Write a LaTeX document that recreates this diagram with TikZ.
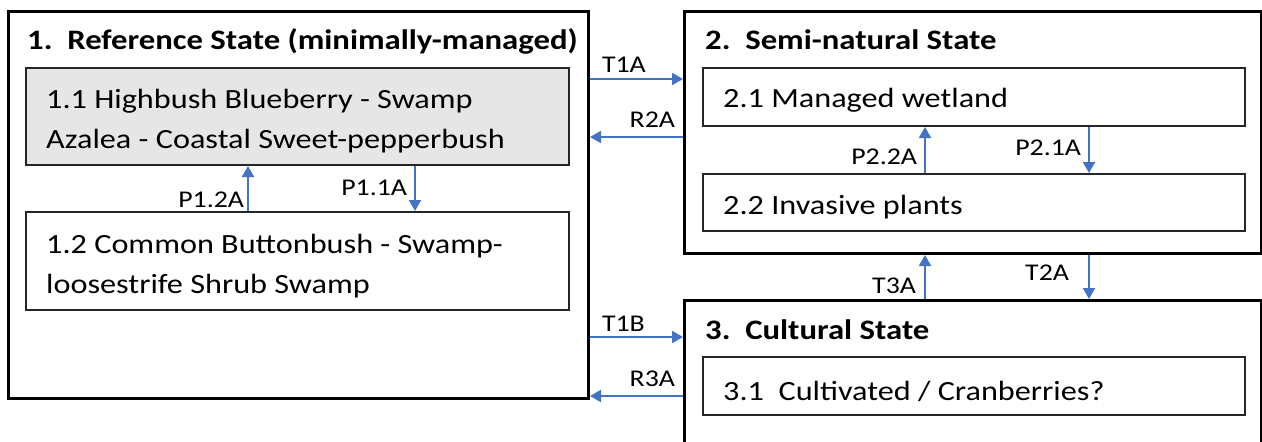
\documentclass[tikz,border=0pt]{standalone}
\usepackage{fontspec}
\setmainfont[FakeStretch=1.16]{Carlito}
\usetikzlibrary{arrows.meta}
\definecolor{arrblue}{HTML}{4472C4}
\definecolor{boxgray}{HTML}{E6E6E6}
\begin{document}
\begin{tikzpicture}[x=1pt,y=-1pt,
  outer/.style={draw=black,line width=3pt,anchor=north west,inner sep=0pt},
  inbox/.style={draw=black!85,line width=2pt,anchor=north west,inner sep=0pt},
  bodytext/.style={anchor=west,align=left,inner sep=0pt,xshift=21pt,yshift=-5pt,
    font=\fontsize{27.8}{40}\selectfont},
  titletext/.style={font=\fontsize{28.2}{30}\selectfont\bfseries,anchor=west,inner sep=0pt},
  lab/.style={font=\fontsize{24}{26}\selectfont,inner sep=0pt},
  arr/.style={draw=arrblue,line width=2pt,-{Triangle[length=11pt,width=12pt]}}]
\path[use as bounding box] (0,0) rectangle (1262,442);
\clip (0,0) rectangle (1262,442);
% outer state boxes
\node[outer,minimum width=580pt,minimum height=387pt] (s1) at (7,10) {};
\node[outer,minimum width=577pt,minimum height=242pt] (s2) at (683,10) {};
\node[outer,minimum width=577pt,minimum height=170pt] (s3) at (683,299) {};
% titles
\node[titletext] (t1) at (27,41) {1.\ \ Reference State (minimally-managed)};
\node[titletext] (t2) at (705,40) {2.\ \ Semi-natural State};
\node[titletext] (t3) at (705,330) {3.\ \ Cultural State};
% community boxes
\node[inbox,fill=boxgray,minimum width=543pt,minimum height=97pt] (c11) at (25,67) {};
\node[inbox,minimum width=543pt,minimum height=98pt] (c12) at (25,211) {};
\node[inbox,minimum width=542pt,minimum height=58pt] (c21) at (702,67) {};
\node[inbox,minimum width=542pt,minimum height=57pt] (c22) at (702,173) {};
\node[inbox,minimum width=542pt,minimum height=58pt] (c31) at (702,356) {};
\node[bodytext] (x11) at (c11.west) {1.1 Highbush Blueberry - Swamp\\Azalea - Coastal Sweet-pepperbush};
\node[bodytext] (x12) at (c12.west) {1.2 Common Buttonbush - Swamp-\\loosestrife Shrub Swamp};
\node[bodytext,yshift=2pt] (x21) at (c21.west) {2.1 Managed wetland};
\node[bodytext] (x22) at (c22.west) {2.2 Invasive plants};
\node[bodytext] (x31) at (c31.west) {3.1\ \ Cultivated / Cranberries?};
% transitions between states
\draw[arr] (s1.east |- 0,79) -- (s2.west |- 0,79)
  node[lab,at start,anchor=south west,xshift=11pt,yshift=6pt] (lT1A) {T1A};
\draw[arr] (s2.west |- 0,137) -- (s1.east |- 0,137)
  node[lab,at start,anchor=south east,xshift=-7pt,yshift=9pt] (lR2A) {R2A};
\draw[arr] (s1.east |- 0,337) -- (s3.west |- 0,337)
  node[lab,at start,anchor=south west,xshift=11pt,yshift=5pt] (lT1B) {T1B};
\draw[arr] (s3.west |- 0,396) -- (s1.east |- 0,396)
  node[lab,at start,anchor=south east,xshift=-7pt,yshift=8pt] (lR3A) {R3A};
\draw[arr] (s3.north -| 925,0) -- (s2.south -| 925,0)
  node[lab,at start,anchor=south east,xshift=-8pt,yshift=4pt] (lT3A) {T3A};
\draw[arr] (s2.south -| 1089,0) -- (s3.north -| 1089,0)
  node[lab,at start,anchor=north east,xshift=-19pt,yshift=-9pt] (lT2A) {T2A};
% pathways within states
\draw[arr] (c12.north -| 248,0) -- (c11.south -| 248,0)
  node[lab,at start,anchor=south east,xshift=-3pt,yshift=2pt] (lP12A) {P1.2A};
\draw[arr] (c11.south -| 415,0) -- (c12.north -| 415,0)
  node[lab,at start,anchor=north east,xshift=-7pt,yshift=-13pt] (lP11A) {P1.1A};
\draw[arr] (c22.north -| 925,0) -- (c21.south -| 925,0)
  node[lab,at start,anchor=south east,xshift=-7pt,yshift=7pt] (lP22A) {P2.2A};
\draw[arr] (c21.south -| 1089,0) -- (c22.north -| 1089,0)
  node[lab,at start,anchor=north east,xshift=-7pt,yshift=-12pt] (lP21A) {P2.1A};
\end{tikzpicture}
\end{document}
